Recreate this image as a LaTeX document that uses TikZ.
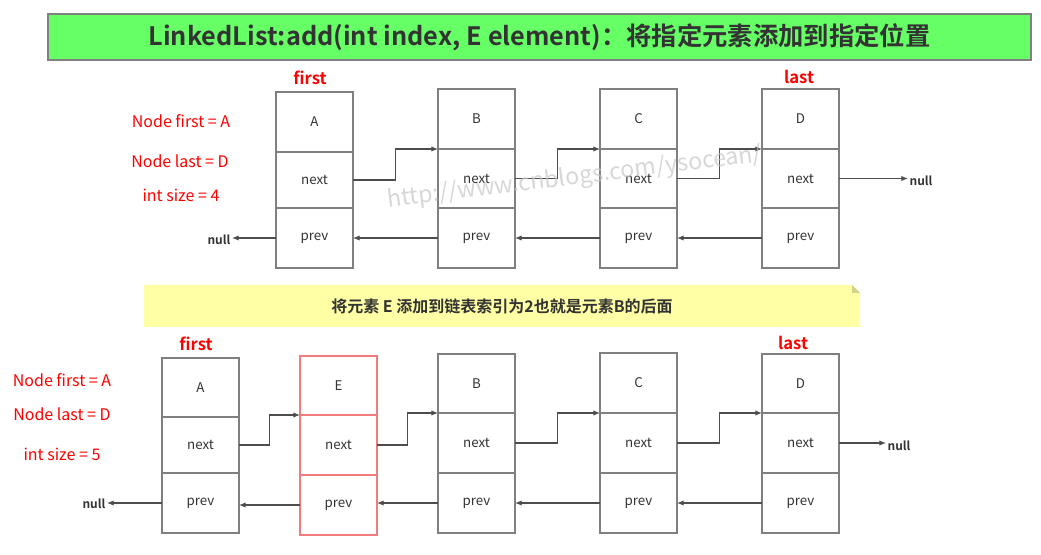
\documentclass[tikz,border=0pt]{standalone}
\usepackage{fontspec}
\setmainfont{Noto Sans CJK SC}[BoldFont={Noto Sans CJK SC Bold}]
\usetikzlibrary{arrows.meta,fit,calc}
\definecolor{boxgray}{HTML}{808080}
\definecolor{linkgray}{HTML}{4D4D4D}
\definecolor{titlegreen}{HTML}{66FF66}
\definecolor{noteyellow}{HTML}{FFFFA6}
\definecolor{notefold}{HTML}{D2D28C}
\definecolor{newred}{HTML}{F27C7C}
\definecolor{txtdark}{HTML}{333333}
\tikzset{
  celltext/.style={font=\fontsize{10}{12}\selectfont, text=txtdark},
  cell/.style={draw=boxgray, line width=1pt, inner sep=0pt, outer sep=0pt,
    label={[celltext]center:#1}},
  newcell/.style={cell=#1, draw=newred},
  link/.style={draw=linkgray, line width=0.8pt, -{Latex[length=5pt,width=4pt]}},
  info/.style={text=red, font=\fontsize{12}{14}\selectfont},
  ptr/.style={text=red, font=\bfseries\fontsize{12.5}{15}\selectfont},
  nullnode/.style={text=txtdark, font=\bfseries\fontsize{9}{11}\selectfont, inner sep=1pt},
}
\begin{document}
\begin{tikzpicture}[x=0.75pt,y=-0.75pt]
  \useasboundingbox (0,0) rectangle (1041,555);
  % title
  \node[draw=boxgray, line width=1.1pt, fill=titlegreen, fit={(48,14) (1031,60)}, inner sep=0pt] (title) {};
  \node[text=txtdark, font=\bfseries\fontsize{19}{22}\selectfont] at (title.center)
    {LinkedList:add(int index, E element)：将指定元素添加到指定位置};

  % list before the insert
  \node[info] (info1) at (181,121) {Node first = A};
  \node[info] (info2) at (180,161) {Node last = D};
  \node[info] (info3) at (181,195) {int size = 4};
  \node[ptr] (tfirst) at (310,78) {first};
  \node[ptr] (tlast) at (799,77) {last};

  \node[cell=A, fit={(276,92) (353,152)}] (tA) {};
  \node[cell=next, fit={(276,152) (353,208)}] (tAn) {};
  \node[cell=prev, fit={(276,208) (353,268)}] (tAp) {};
  \node[cell=B, fit={(438,89) (515,149)}] (tB) {};
  \node[cell=next, fit={(438,149) (515,208)}] (tBn) {};
  \node[cell=prev, fit={(438,208) (515,268)}] (tBp) {};
  \node[cell=C, fit={(600,89) (677,149)}] (tC) {};
  \node[cell=next, fit={(600,149) (677,208)}] (tCn) {};
  \node[cell=prev, fit={(600,208) (677,268)}] (tCp) {};
  \node[cell=D, fit={(762,89) (839,149)}] (tD) {};
  \node[cell=next, fit={(762,149) (839,208)}] (tDn) {};
  \node[cell=prev, fit={(762,208) (839,268)}] (tDp) {};

  \node[nullnode, anchor=east] (tnull1) at (232,240) {null};
  \node[nullnode, anchor=west] (tnull2) at (908,181) {null};

  \draw[link] (tAn.east) -| ($(tAn.east)!.5!(tBn.north west)$) |- (tBn.north west);
  \draw[link] (tBn.east) -| ($(tBn.east)!.5!(tCn.north west)$) |- (tCn.north west);
  \draw[link] (tCn.east) -| ($(tCn.east)!.5!(tDn.north west)$) |- (tDn.north west);
  \draw[link] (tDn.east) -- (tDn.east -| tnull2.west);
  \draw[link] (tAp.west) -- (tAp.west -| tnull1.east);
  \draw[link] (tBp.west) -- (tAp.east);
  \draw[link] (tCp.west) -- (tBp.east);
  \draw[link] (tDp.west) -- (tCp.east);

  % note
  \fill[noteyellow] (144,285) -- (852,285) -- (860,293) -- (860,327) -- (144,327) -- cycle;
  \fill[notefold] (852,285) -- (852,293) -- (860,293) -- cycle;
  \node[text=txtdark, font=\bfseries\fontsize{12}{14}\selectfont] (note) at (502,306)
    {将元素 E 添加到链表索引为2也就是元素B的后面};

  % list after the insert
  \node[info] (info4) at (62,380) {Node first = A};
  \node[info] (info5) at (62,414) {Node last = D};
  \node[info] (info6) at (62,454) {int size = 5};
  \node[ptr] (bfirst) at (196,344) {first};
  \node[ptr] (blast) at (793,343) {last};

  \node[cell=A, fit={(162,358) (239,417)}] (bA) {};
  \node[cell=next, fit={(162,417) (239,473)}] (bAn) {};
  \node[cell=prev, fit={(162,473) (239,533)}] (bAp) {};
  \node[newcell=E, fit={(300,356) (377,415)}] (bE) {};
  \node[newcell=next, fit={(300,415) (377,475)}] (bEn) {};
  \node[newcell=prev, fit={(300,475) (377,535)}] (bEp) {};
  \node[cell=B, fit={(438,354) (515,413)}] (bB) {};
  \node[cell=next, fit={(438,413) (515,473)}] (bBn) {};
  \node[cell=prev, fit={(438,473) (515,533)}] (bBp) {};
  \node[cell=C, fit={(600,353) (677,413)}] (bC) {};
  \node[cell=next, fit={(600,413) (677,473)}] (bCn) {};
  \node[cell=prev, fit={(600,473) (677,533)}] (bCp) {};
  \node[cell=D, fit={(762,354) (839,413)}] (bD) {};
  \node[cell=next, fit={(762,413) (839,473)}] (bDn) {};
  \node[cell=prev, fit={(762,473) (839,533)}] (bDp) {};

  \node[nullnode, anchor=east] (bnull1) at (107,504) {null};
  \node[nullnode, anchor=west] (bnull2) at (886,446) {null};

  \draw[link] (bAn.east) -| ($(bAn.east)!.5!(bEn.north west)$) |- (bEn.north west);
  \draw[link] (bEn.east) -| ($(bEn.east)!.5!(bBn.north west)$) |- (bBn.north west);
  \draw[link] (bBn.east) -| ($(bBn.east)!.5!(bCn.north west)$) |- (bCn.north west);
  \draw[link] (bCn.east) -| ($(bCn.east)!.5!(bDn.north west)$) |- (bDn.north west);
  \draw[link] (bDn.east) -- (bDn.east -| bnull2.west);
  \draw[link] (bAp.west) -- (bAp.west -| bnull1.east);
  \draw[link] (bEp.west) -- (bEp.west -| bAp.east);
  \draw[link] (bBp.west) -- (bBp.west -| bEp.east);
  \draw[link] (bCp.west) -- (bBp.east);
  \draw[link] (bDp.west) -- (bCp.east);

  % watermark
  \node[text=gray!45, opacity=0.7, rotate=7, font=\fontsize{17.5}{20}\selectfont] (mark) at (575,178)
    {http://www.cnblogs.com/ysocean/};
\end{tikzpicture}
\end{document}
